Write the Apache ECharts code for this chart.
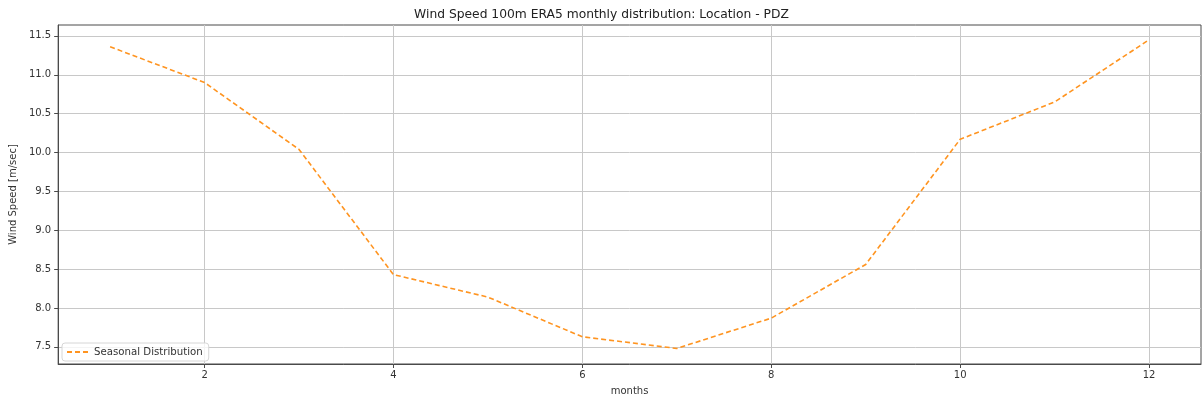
<!DOCTYPE html>
<html>
<head>
<meta charset="utf-8">
<script src="https://cdn.jsdelivr.net/npm/echarts@6/dist/echarts.min.js"></script>
<style>
  html, body { margin: 0; padding: 0; background: #fff; }
  #chart { width: 1203px; height: 401px; }
</style>
</head>
<body>
<div id="chart"></div>
<script>
// monthly mean wind speed
const months = [1, 2, 3, 4, 5, 6, 7, 8, 9, 10, 11, 12]
const windSpeed = [11.36, 10.90, 10.04, 8.43, 8.14, 7.63, 7.48, 7.87, 8.56, 10.17, 10.65, 11.45]
const xTicks = [2, 4, 6, 8, 10, 12]
const yTicks = [7.5, 8.0, 8.5, 9.0, 9.5, 10.0, 10.5, 11.0, 11.5]

const font = 'DejaVu Sans'
const myChart = echarts.init(document.getElementById('chart'))

myChart.setOption({
    animation: false,
    title: {
        text: 'Wind Speed 100m ERA5 monthly distribution: Location - PDZ',
        left: 'center',
        top: 4,
        textStyle: { fontFamily: font, fontSize: 12.3, fontWeight: 'normal', color: '#222' }
    },
    legend: {
        left: 62,
        top: 343,
        orient: 'vertical',
        padding: [4, 6, 4, 4],
        itemWidth: 22,
        itemHeight: 10,
        itemGap: 4,
        itemStyle: { opacity: 0, borderWidth: 0 },
        borderColor: '#d6d6d6',
        borderWidth: 1,
        borderRadius: 3,
        backgroundColor: 'rgba(255,255,255,0.8)',
        textStyle: { fontFamily: font, fontSize: 10.2, color: '#333' },
        data: ['Seasonal Distribution']
    },
    grid: {
        left: 57,
        right: 2,
        top: 25,
        bottom: 34,
        show: true,
        borderColor: '#4a4a4a',
        borderWidth: 1
    },
    xAxis: {
        type: 'value',
        min: 0.45,
        max: 12.55,
        name: 'months',
        nameLocation: 'middle',
        nameGap: 22,
        nameTextStyle: { fontFamily: font, fontSize: 10, color: '#333' },
        axisLine: { show: true, lineStyle: { color: '#4a4a4a' } },
        axisTick: { show: true, length: 4, customValues: xTicks, lineStyle: { color: '#4a4a4a' } },
        axisLabel: { customValues: xTicks, fontFamily: font, fontSize: 10, color: '#333', margin: 6 },
        splitLine: { show: true, lineStyle: { color: '#c8c8c8', width: 1 } }
    },
    yAxis: {
        type: 'value',
        min: 7.28,
        max: 11.64,
        name: 'Wind Speed [m/sec]',
        nameLocation: 'middle',
        nameRotate: 90,
        nameGap: 33,
        nameTextStyle: { fontFamily: font, fontSize: 10, color: '#333' },
        axisLine: { show: true, lineStyle: { color: '#4a4a4a' } },
        axisTick: { show: true, length: 4, customValues: yTicks, lineStyle: { color: '#4a4a4a' } },
        axisLabel: {
            customValues: yTicks,
            fontFamily: font, fontSize: 10, color: '#333', margin: 7,
            formatter: v => v.toFixed(1)
        },
        splitLine: { show: true, lineStyle: { color: '#c8c8c8', width: 1 } }
    },
    series: [{
        name: 'Seasonal Distribution',
        type: 'line',
        data: months.map((m, i) => [m, windSpeed[i]]),
        symbol: 'none',
        itemStyle: { color: '#ff9420' },
        lineStyle: { color: '#ff9420', width: 1.6, type: [5, 3] }
    }]
})
</script>
</body>
</html>
